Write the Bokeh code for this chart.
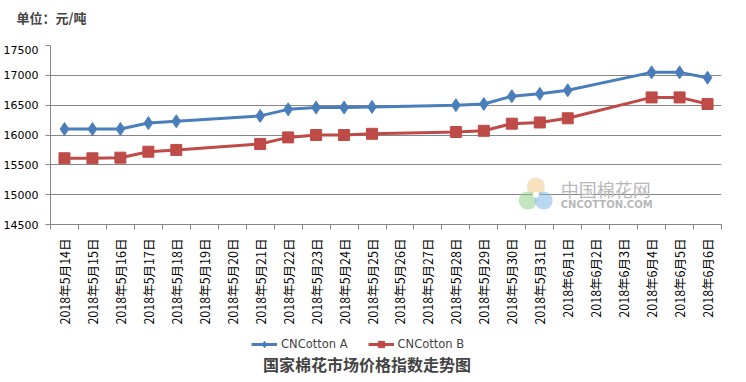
import math
from bokeh.plotting import figure
from bokeh.layouts import column
from bokeh.models import (FixedTicker, Legend, LegendItem, Label, Range1d)
from bokeh.embed import file_html
from bokeh.resources import INLINE

# ---- data ----
dates = ["2018年5月14日", "2018年5月15日", "2018年5月16日", "2018年5月17日", "2018年5月18日",
         "2018年5月19日", "2018年5月20日", "2018年5月21日", "2018年5月22日", "2018年5月23日",
         "2018年5月24日", "2018年5月25日", "2018年5月26日", "2018年5月27日", "2018年5月28日",
         "2018年5月29日", "2018年5月30日", "2018年5月31日", "2018年6月1日", "2018年6月2日",
         "2018年6月3日", "2018年6月4日", "2018年6月5日", "2018年6月6日"]
data_dates = ["2018年5月14日", "2018年5月15日", "2018年5月16日", "2018年5月17日", "2018年5月18日",
              "2018年5月21日", "2018年5月22日", "2018年5月23日", "2018年5月24日", "2018年5月25日",
              "2018年5月28日", "2018年5月29日", "2018年5月30日", "2018年5月31日", "2018年6月1日",
              "2018年6月4日", "2018年6月5日", "2018年6月6日"]
cotton_a = [16100, 16100, 16100, 16200, 16230, 16320, 16430, 16460, 16460, 16470,
            16500, 16520, 16650, 16690, 16750, 17050, 17050, 16960]
cotton_b = [15610, 15610, 15620, 15720, 15750, 15850, 15960, 16000, 16000, 16020,
            16050, 16070, 16190, 16210, 16280, 16630, 16630, 16520]
y_ticks = [14500, 15000, 15500, 16000, 16500, 17000, 17500]
unit_text = "单位：元/吨"
chart_title = "国家棉花市场价格指数走势图"
series_names = ["CNCotton A", "CNCotton B"]

FONT = "Noto Sans CJK SC"
BLUE = "#4a7ebb"
RED = "#be4b48"

xs = [dates.index(d) for d in data_dates]

# header strip with the unit text
h = figure(width=730, height=45, output_backend="svg", toolbar_location=None,
           x_range=Range1d(57, 729), y_range=Range1d(0, 1),
           min_border_left=49, min_border_right=9, min_border_top=0, min_border_bottom=0,
           x_axis_type=None, y_axis_type=None)
h.outline_line_color = None
h.xgrid.visible = False
h.ygrid.visible = False
h.title.text = unit_text
h.title.text_font = FONT
h.title.text_font_size = "13px"
h.title.text_font_style = "bold"
h.title.align = "left"
h.title.offset = -34
h.title.standoff = 10

p = figure(width=730, height=283, output_backend="svg", toolbar_location=None,
           x_range=Range1d(-0.5, len(dates) - 0.5), y_range=Range1d(y_ticks[0], y_ticks[-1]),
           min_border_left=49, min_border_right=9, min_border_top=0, min_border_bottom=104)
p.outline_line_color = None
p.background_fill_color = "white"
p.title.visible = False

# axes
p.xaxis.ticker = FixedTicker(ticks=list(range(len(dates))),
                             minor_ticks=[i - 0.5 for i in range(len(dates) + 1)])
p.xaxis.major_label_overrides = {i: d for i, d in enumerate(dates)}
p.xaxis.major_label_orientation = math.pi / 2
p.xaxis.major_label_text_font = FONT
p.xaxis.major_label_text_font_size = "12.5px"
p.xaxis.major_label_text_color = "black"
p.xaxis.major_tick_line_color = None
p.xaxis.minor_tick_line_color = "#868686"
p.xaxis.minor_tick_out = 5
p.xaxis.minor_tick_in = 0
p.xaxis.axis_line_color = "#868686"
p.xaxis.major_label_standoff = 8

p.yaxis.ticker = FixedTicker(ticks=y_ticks)
p.yaxis.major_label_text_font = "DejaVu Sans"
p.yaxis.major_label_text_font_size = "11px"
p.yaxis.major_label_text_color = "black"
p.yaxis.major_tick_line_color = "#868686"
p.yaxis.major_tick_out = 5
p.yaxis.major_tick_in = 0
p.yaxis.minor_tick_line_color = None
p.yaxis.axis_line_color = "#868686"
p.yaxis.major_label_standoff = 7

p.xgrid.grid_line_color = None
p.ygrid.ticker = FixedTicker(ticks=y_ticks)
p.ygrid.grid_line_color = "#868686"
p.ygrid.grid_line_width = 1

# watermark
p.scatter(x=[16.86], y=[15137], size=18, color="#f2c98a", alpha=0.55, line_color=None)
p.scatter(x=[16.57], y=[14902], size=18, color="#8fce8a", alpha=0.55, line_color=None)
p.scatter(x=[17.14], y=[14902], size=18, color="#7fb6e6", alpha=0.55, line_color=None)
p.scatter(x=[16.86], y=[15000], size=6, color="white", line_color=None)
p.add_layout(Label(x=17.75, y=15087, text="中国棉花网", text_font=FONT, text_font_size="18px",
                   text_color="#b8b8b8", text_baseline="middle"))
p.add_layout(Label(x=17.75, y=14835, text="CNCOTTON.COM", text_font="DejaVu Sans",
                   text_font_size="10px", text_font_style="bold",
                   text_color="#b8b8b8", text_baseline="middle"))

# series
p.line(xs, cotton_a, line_color=BLUE, line_width=3)
p.scatter(xs, cotton_a, marker="diamond", size=13, color=BLUE)
p.line(xs, cotton_b, line_color=RED, line_width=3)
p.scatter(xs, cotton_b, marker="square", size=11, color=RED)

# legend + title strip (frame aligned with the chart frame: x in page pixels 57..729)
q = figure(width=730, height=46, output_backend="svg", toolbar_location=None,
           x_range=Range1d(57, 729), y_range=Range1d(0, 46),
           min_border_left=49, min_border_right=9, min_border_top=0, min_border_bottom=0,
           x_axis_type=None, y_axis_type=None)
q.outline_line_color = None
q.xgrid.visible = False
q.ygrid.visible = False
la = q.line([-100, -90], [-100, -100], line_color=BLUE, line_width=3)
ma = q.scatter([-100], [-100], marker="diamond", size=11, color=BLUE)
lb = q.line([-100, -90], [-100, -100], line_color=RED, line_width=3)
mb = q.scatter([-100], [-100], marker="square", size=10, color=RED)
legend = Legend(items=[LegendItem(label=series_names[0], renderers=[la, ma]),
                       LegendItem(label=series_names[1], renderers=[lb, mb])],
                orientation="horizontal", location=(201, 22),
                label_text_font="DejaVu Sans", label_text_font_size="11.5px",
                label_height=16, glyph_height=16,
                border_line_color=None, background_fill_alpha=0,
                glyph_width=26, label_standoff=4, spacing=20, padding=2, margin=0)
q.add_layout(legend, "center")
q.add_layout(Label(x=374, y=11, text=chart_title, text_font=FONT, text_font_size="16px",
                   text_font_style="bold", text_align="center", text_baseline="middle"))

open("out.html", "w").write(file_html(column(h, p, q, spacing=0), INLINE))
